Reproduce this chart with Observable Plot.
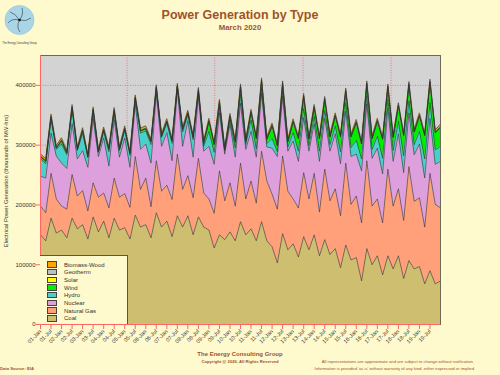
<!DOCTYPE html>
<html><head><meta charset="utf-8">
<script src="https://cdn.jsdelivr.net/npm/d3@7"></script>
<script src="https://cdn.jsdelivr.net/npm/@observablehq/plot@0.6"></script>
<style>
body{margin:0;background:#FFFACD;}
#wrap{position:relative;width:500px;height:375px;background:#FFFACD;font-family:"Liberation Sans",Arial,sans-serif;overflow:hidden}
#wrap svg.plot{position:absolute;left:0;top:0}
.t{position:absolute;white-space:nowrap;color:#A0522D;font-weight:bold;line-height:1}
#legend{position:absolute;left:40px;top:255px;width:88px;height:69px;background:#FFFACD;border:1px solid #555;border-left:none;border-bottom:none;box-sizing:border-box}
.li{position:absolute;left:7px;height:8px;font-size:6px;color:#333;line-height:8px;white-space:nowrap}
.sw{display:inline-block;width:8px;height:4.5px;border:0.6px solid #444;vertical-align:middle;margin-right:7px;position:relative;top:-0.5px}
#ytitle{position:absolute;left:6px;top:181px;transform:translate(-50%,-50%) rotate(-90deg);font-size:5.8px;color:#333;white-space:nowrap}
</style></head><body><div id="wrap">
<svg width="40" height="46" style="position:absolute;left:0;top:0">
<circle cx="19.5" cy="20" r="14.6" fill="#A9D5E6" stroke="#8FBFD3" stroke-width="0.5"/>
<g fill="none" stroke="#2a3a44" stroke-width="0.6">
<path d="M19.5 20 Q24 14 22 8"/><path d="M19.5 20 Q26 22 31 18"/><path d="M19.5 20 Q16 27 20 32"/><path d="M19.5 20 Q12 18 8 23"/><path d="M19.5 20 Q15 13 10 12"/>
</g>
<circle cx="19.5" cy="20" r="1.3" fill="#111"/>
<text x="19.5" y="43.5" font-size="2.6" text-anchor="middle" fill="#333" font-family="Liberation Sans, Arial">The Energy Consulting Group</text>
</svg>
<div class="t" style="left:240px;top:9px;transform:translateX(-50%);font-size:12.5px">Power Generation by Type</div>
<div class="t" style="left:240px;top:24px;transform:translateX(-50%);font-size:7.8px">March 2020</div>
<div id="ytitle">Electrical Power Generation (thousands of MW-hrs)</div>
<div id="plotholder"></div>
<div id="legend"></div>
<div class="t" style="left:240px;top:351px;transform:translateX(-50%);font-size:6px">The Energy Consulting Group</div>
<div class="t" style="left:240px;top:359.5px;transform:translateX(-50%);font-size:4.2px">Copyright @ 2020, All Rights Reserved</div>
<div class="t" style="right:26px;top:360px;font-size:4.2px;font-weight:normal">All representations are approximate and are subject to change without notification.</div>
<div class="t" style="right:26px;top:366.5px;font-size:4.2px;font-weight:normal">Information is provided 'as is' without warranty of any kind, either expressed or implied</div>
<div class="t" style="left:0px;top:366.5px;font-size:4.2px">Data Source: EIA</div>
</div>
<script>
const seriesNames = ["Coal","Natural Gas","Nuclear","Hydro","Wind","Solar","Geotherm","Biomass-Wood"];
const seriesColors = ["#CDBE70","#FFA07A","#DDA0DD","#48D1CC","#00EE00","#FFFF00","#BEBEBE","#FFA500"];
const legendOrder = ["Biomass-Wood","Geotherm","Solar","Wind","Hydro","Nuclear","Natural Gas","Coal"];
const xLabels = ["01-Jan","01-Jul","02-Jan","02-Jul","03-Jan","03-Jul","04-Jan","04-Jul","05-Jan","05-Jul",
"06-Jan","06-Jul","07-Jan","07-Jul","08-Jan","08-Jul","09-Jan","09-Jul","10-Jan","10-Jul",
"11-Jan","11-Jul","12-Jan","12-Jul","13-Jan","13-Jul","14-Jan","14-Jul","15-Jan","15-Jul",
"16-Jan","16-Jul","17-Jan","17-Jul","18-Jan","18-Jul","19-Jan","19-Jul"];
const yTicks = [0,100000,200000,300000,400000];
const yGrid = [100000,200000,300000,400000];
const xGrid = [8.23,16.55,24.95,33.3];

const coal = [150000,140000,178000,153000,158000,145000,178000,160000,167000,143000,
180000,155000,173000,145000,178000,158000,162000,143000,183000,163000,
167000,145000,187000,163000,173000,147000,182000,163000,182000,150000,
180000,163000,158000,128000,150000,142000,155000,140000,172000,150000,
160000,140000,172000,140000,130000,103000,152000,125000,135000,113000,
147000,125000,150000,115000,142000,117000,127000,95000,133000,108000,
112000,73000,127000,100000,115000,83000,115000,93000,115000,77000,
107000,93000,97000,68000,90000,68000,73000];
const gas = [48000,47000,75000,57000,40000,48000,73000,55000,57000,47000,
57000,58000,47000,50000,67000,55000,57000,53000,98000,63000,
78000,52000,87000,60000,60000,62000,103000,63000,67000,62000,
98000,57000,52000,58000,107000,65000,82000,58000,98000,60000,
80000,63000,118000,100000,88000,90000,130000,98000,75000,82000,
107000,85000,103000,73000,118000,90000,100000,87000,137000,93000,
103000,97000,147000,98000,95000,87000,145000,105000,112000,97000,
157000,113000,115000,95000,163000,133000,122000];
const nuclear = [50000,58000,67000,72000,72000,68000,85000,62000,67000,73000,
107000,68000,92000,70000,98000,67000,93000,67000,88000,67000,
57000,73000,112000,75000,88000,65000,108000,72000,92000,68000,
103000,70000,88000,82000,97000,78000,98000,82000,100000,83000,
83000,77000,97000,57000,77000,88000,100000,67000,97000,78000,
92000,80000,83000,85000,85000,83000,92000,87000,87000,80000,
70000,87000,95000,80000,85000,82000,102000,75000,92000,80000,
90000,78000,90000,82000,92000,67000,78000];
const hydro = [29000,24000,23000,11000,32000,23000,23000,14000,29000,16000,
12000,7000,11000,24000,12000,11000,13000,20000,8000,27000,
22000,31000,8000,15000,16000,29000,4000,24000,10000,29000,
7000,8000,25000,20000,9000,5000,7000,15000,15000,8000,
19000,14000,8000,6000,16000,8000,8000,7000,14000,17000,
15000,9000,12000,17000,13000,11000,13000,20000,14000,15000,
23000,20000,14000,15000,20000,26000,15000,18000,21000,28000,
20000,17000,21000,32000,26000,24000,25000];
const wind = [4000,4000,3000,2000,5000,3000,3000,2000,4000,2000,
2000,1000,2000,4000,2000,2000,2000,3000,1000,4000,
3000,5000,1000,2000,2000,4000,1000,4000,2000,4000,
1000,5000,16000,13000,6000,3000,5000,10000,10000,5000,
12000,17000,10000,7000,20000,10000,10000,9000,17000,21000,
18000,11000,14000,21000,16000,13000,16000,25000,17000,18000,
29000,25000,17000,18000,24000,32000,18000,22000,25000,34000,
25000,21000,25000,39000,32000,29000,31000];
const solar = [0,0,1500,0,800,0,1500,0,800,0,
1500,0,800,0,1500,0,800,0,1500,0,
800,0,1500,0,800,0,1000,0,800,0,
3000,0,1500,0,3000,0,1500,0,3000,0,
1500,0,3000,0,1500,0,3000,0,1500,0,
3000,0,1500,0,3000,0,1500,0,3000,0,
1500,0,3000,0,1500,0,3000,0,1500,0,
3000,0,1500,0,3000,0,1500];
const geotherm = [1000,1000,1000,1000,1000,1000,1000,1000,1000,1000,
1000,1000,1000,1000,1000,1000,1000,1000,1000,1000,
1000,1000,1000,1000,1000,1000,1000,1000,1000,1000,
1000,1000,1000,1000,1000,1000,1000,1000,1000,1000,
1000,1000,1000,1000,1000,1000,1000,1000,1000,1000,
1000,1000,1000,1000,1000,1000,1000,1000,1000,1000,
1000,1000,1000,1000,1000,1000,1000,1000,1000,1000,
1000,1000,1000,1000,1000,1000,1000];
const biomass = [3500,3500,3500,3500,3500,3500,3500,3500,3500,3500,
3500,3500,3500,3500,3500,3500,3500,3500,3500,3500,
3500,3500,3500,3500,3500,3500,3500,3500,3500,3500,
3500,3500,3500,3500,3500,3500,3500,3500,3500,3500,
3500,3500,3500,3500,3500,3500,3500,3500,3500,3500,
3500,3500,3500,3500,3500,3500,3500,3500,3500,3500,
3500,3500,3500,3500,3500,3500,3500,3500,3500,3500,
3500,3500,3500,3500,3500,3500,3500];

const allSeries = [coal, gas, nuclear, hydro, wind, solar, geotherm, biomass];
const data = [];
allSeries.forEach((arr, si) => arr.forEach((v, k) => data.push({t: k / 2, series: seriesNames[si], value: v})));

const red = "#FF6666";
const chart = Plot.plot({
  width: 500, height: 375,
  marginLeft: 40, marginRight: 60, marginTop: 55, marginBottom: 51,
  style: {background: "transparent", fontFamily: "Liberation Sans, Arial, sans-serif", overflow: "visible"},
  x: {domain: [0, 38]},
  y: {domain: [0, 450000]},
  color: {domain: seriesNames, range: seriesColors},
  marks: [
    Plot.frame({fill: "#D3D3D3", stroke: null}),
    Plot.ruleY(yGrid, {stroke: "#E06A6A", strokeDasharray: "1,1.5", strokeWidth: 0.8}),
    Plot.ruleX(xGrid, {stroke: "#E06A6A", strokeDasharray: "1,1.5", strokeWidth: 0.8}),
    Plot.areaY(data, {x: "t", y: "value", z: "series", fill: "series", order: seriesNames}),
    Plot.lineY(data, Plot.stackY2({x: "t", y: "value", z: "series", order: seriesNames, stroke: "#333", strokeWidth: 0.6})),
    Plot.frame({stroke: "#6b6b55", strokeWidth: 1}),
    Plot.ruleX([0], {stroke: red}),
    Plot.ruleY([0], {stroke: red}),
    Plot.axisY({ticks: yTicks, tickFormat: d => String(d), tickSize: 4, tickPadding: 1, stroke: red, fill: "#333", fontSize: 6, label: null}),
    Plot.axisX({ticks: d3.range(xLabels.length), tickFormat: i => xLabels[i], tickSize: 5, tickPadding: 1, tickRotate: -45, stroke: red, fill: "#333", fontSize: 5.5, label: null})
  ]
});
chart.classList.add("plot");
document.getElementById("plotholder").appendChild(chart);

const legend = document.getElementById("legend");
legendOrder.forEach((name, i) => {
  const d = document.createElement("div");
  d.className = "li";
  d.style.top = (4.5 + i * 7.7) + "px";
  const sw = document.createElement("span");
  sw.className = "sw";
  sw.style.background = seriesColors[seriesNames.indexOf(name)];
  d.appendChild(sw);
  d.appendChild(document.createTextNode(name));
  legend.appendChild(d);
});
</script>
</body></html>
